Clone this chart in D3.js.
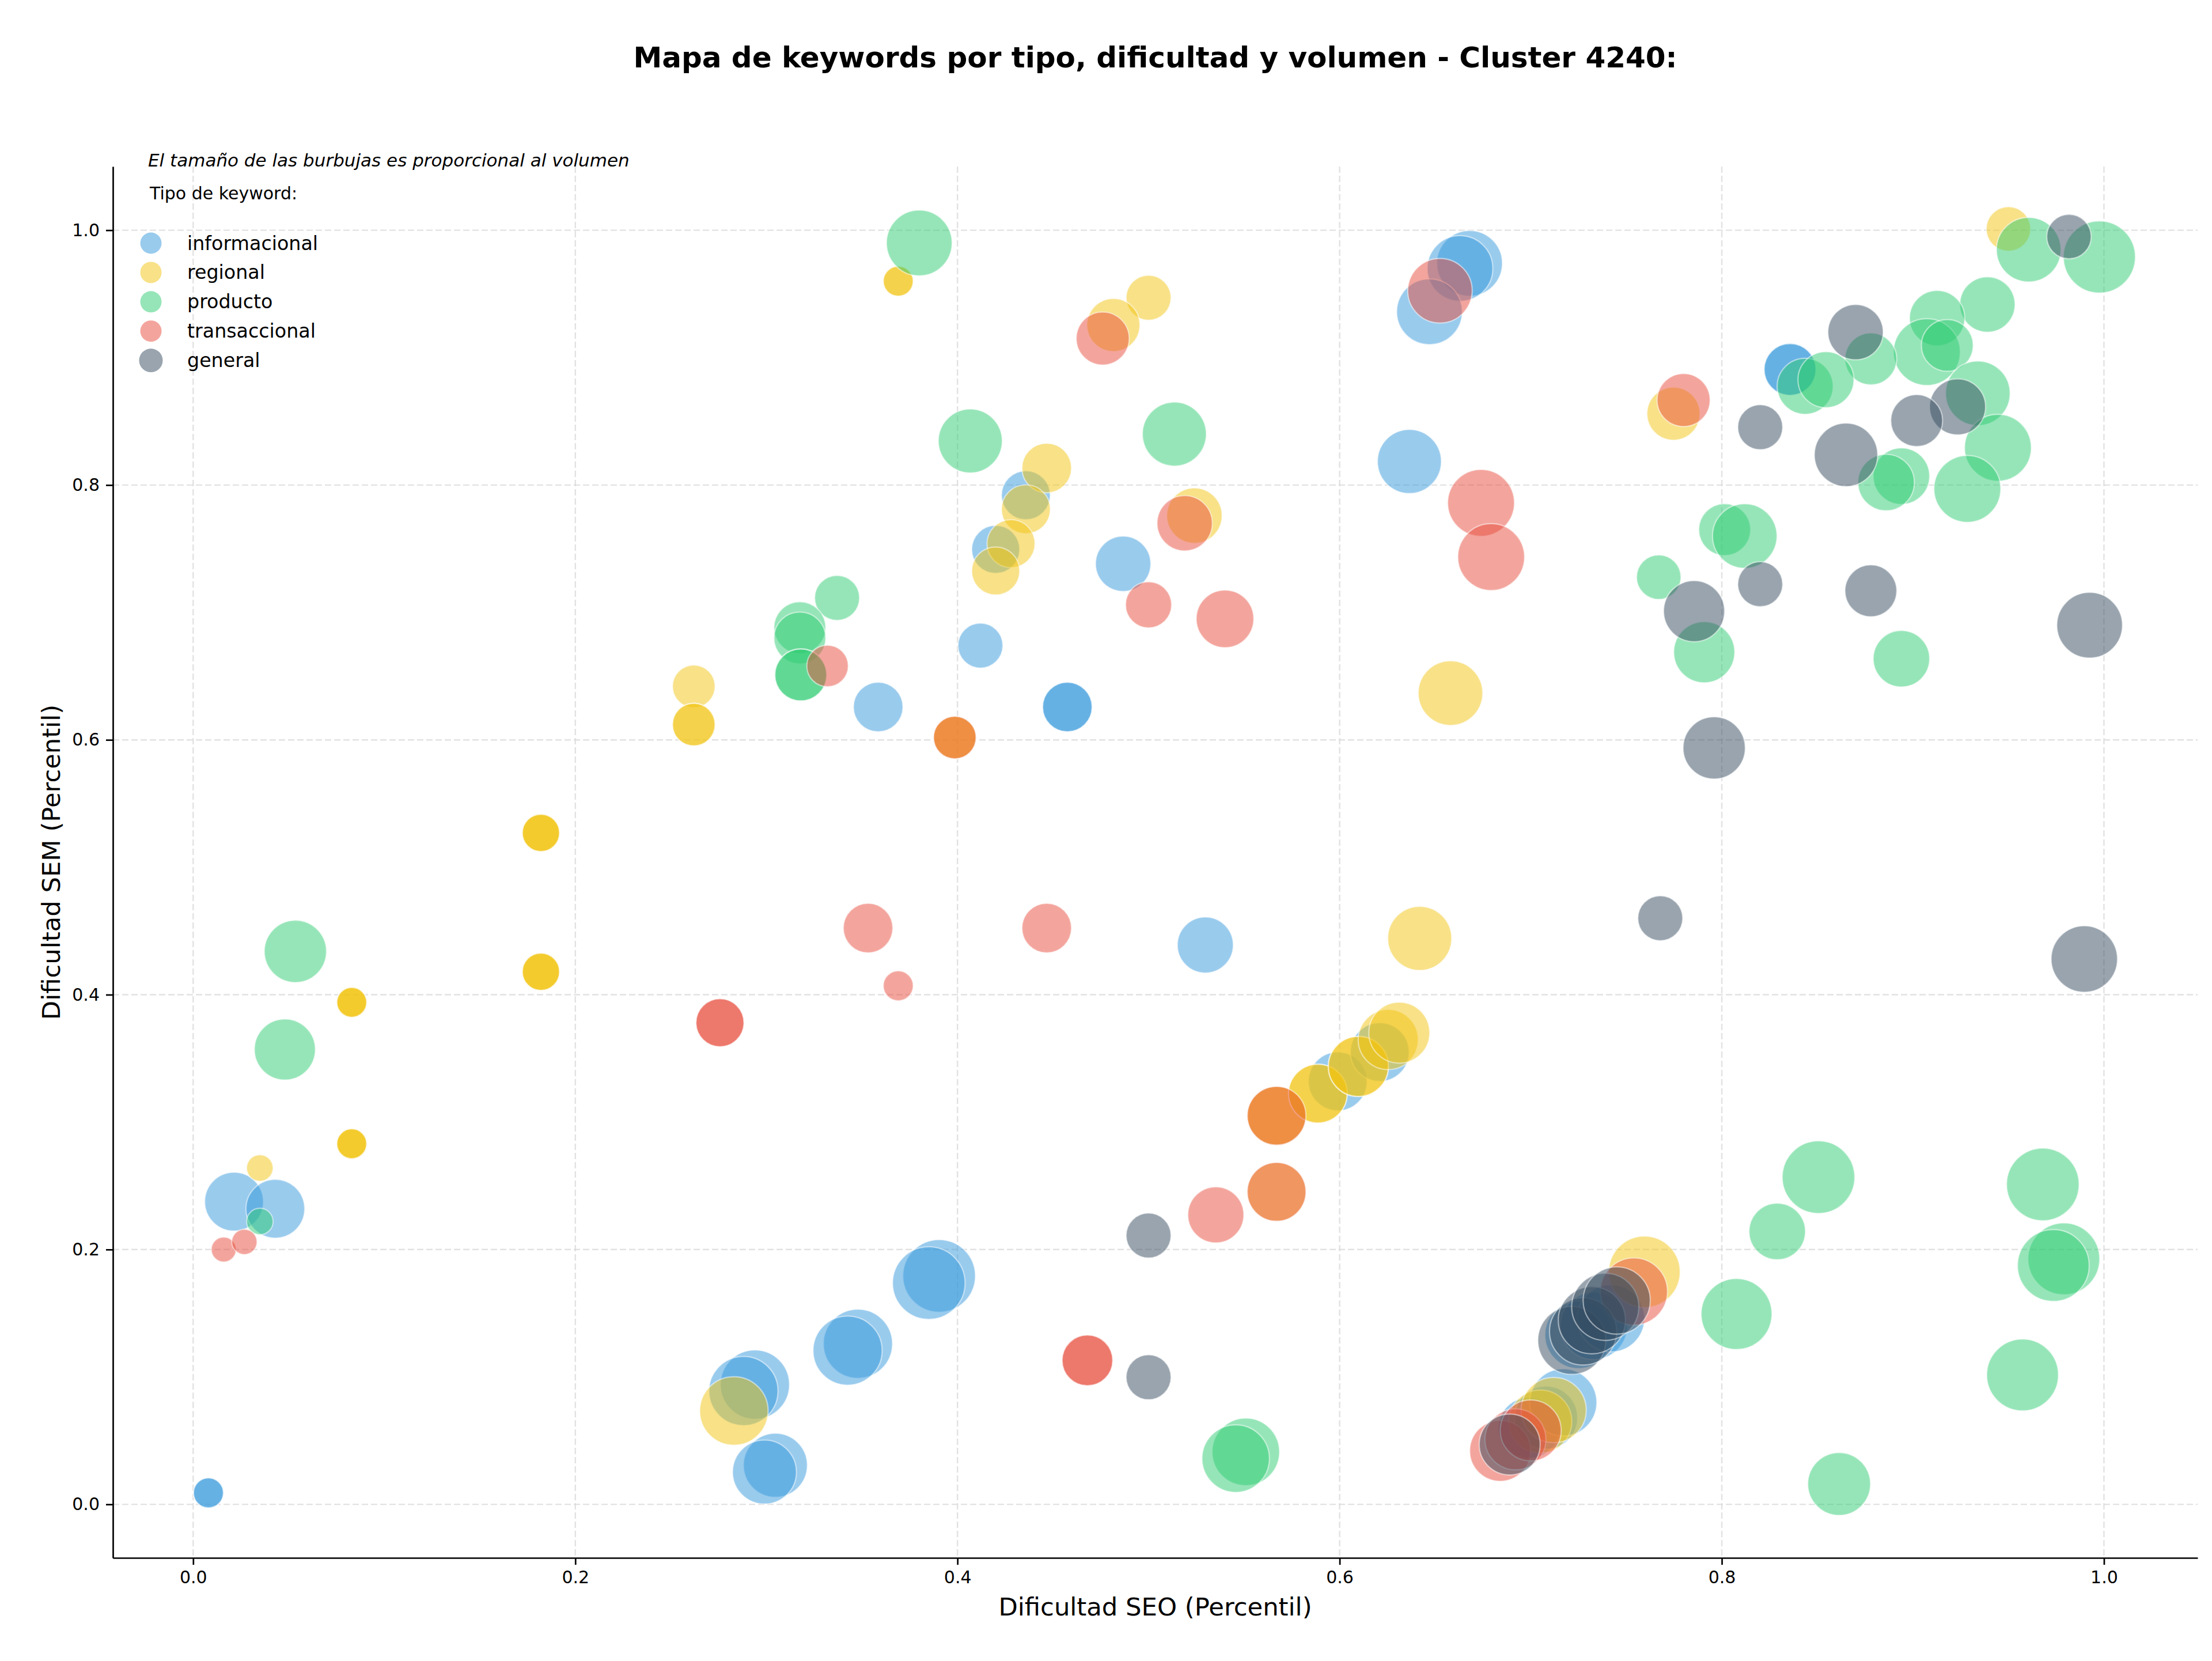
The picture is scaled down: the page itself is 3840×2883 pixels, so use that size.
<!DOCTYPE html>
<html>
<head>
<meta charset="utf-8">
<script src="https://cdn.jsdelivr.net/npm/d3@7"></script>
<style>
  body { margin: 0; background: #fff; }
  svg text { font-family: "DejaVu Sans", sans-serif; }
</style>
</head>
<body>
<div id="chart"></div>
<script>
// keyword types, in the order they are drawn
const tipos = ["informacional", "regional", "producto", "transaccional", "general"];
const colores = ["#3498db", "#f1c40f", "#2ecc71", "#e74c3c", "#34495e"];
const ticks = [0, 0.2, 0.4, 0.6, 0.8, 1.0];

// [dificultad SEO, dificultad SEM, volumen]
const informacional = [
    [0.008, 0.009, 169], [0.008, 0.009, 169],
    [0.0214, 0.2376, 650], [0.043, 0.232, 650],
    [0.294, 0.094, 900], [0.288, 0.089, 900],
    [0.3047, 0.0307, 770], [0.299, 0.0254, 770],
    [0.3904, 0.1793, 992], [0.385, 0.1737, 992],
    [0.3479, 0.126, 900], [0.3425, 0.1207, 900],
    [0.3585, 0.6258, 462], [0.412, 0.674, 380],
    [0.4575, 0.6258, 462], [0.4575, 0.6258, 462],
    [0.4358, 0.792, 450], [0.420, 0.7495, 434], [0.4867, 0.7382, 576],
    [0.6365, 0.8185, 770], [0.668, 0.974, 812], [0.663, 0.970, 812], [0.647, 0.936, 812],
    [0.5297, 0.439, 590],
    [0.8357, 0.8907, 506], [0.8357, 0.8907, 506],
    [0.599, 0.332, 650], [0.621, 0.355, 650],
    [0.699, 0.060, 700], [0.708, 0.068, 750], [0.717, 0.080, 850],
    [0.725, 0.133, 850], [0.733, 0.140, 850], [0.742, 0.146, 850]
];

const regional = [
    [0.262, 0.642, 342],
    [0.262, 0.612, 342], [0.262, 0.612, 342],
    [0.182, 0.527, 262], [0.182, 0.527, 262], [0.182, 0.527, 262],
    [0.083, 0.394, 169], [0.083, 0.394, 169], [0.083, 0.394, 169],
    [0.182, 0.418, 262], [0.182, 0.418, 262], [0.182, 0.418, 262],
    [0.083, 0.283, 169], [0.083, 0.283, 169], [0.083, 0.283, 169],
    [0.0349, 0.264, 132],
    [0.283, 0.0733, 882],
    [0.369, 0.960, 169], [0.369, 0.960, 169],
    [0.500, 0.947, 380], [0.4816, 0.9256, 529],
    [0.4467, 0.8133, 462], [0.4358, 0.781, 450], [0.428, 0.754, 434], [0.420, 0.7326, 434],
    [0.524, 0.776, 576], [0.658, 0.6367, 784],
    [0.3986, 0.6018, 342], [0.3986, 0.6018, 342],
    [0.950, 1.001, 372], [0.7747, 0.856, 529], [0.6419, 0.4442, 770],
    [0.567, 0.305, 650], [0.567, 0.305, 650],
    [0.567, 0.2453, 650],
    [0.5886, 0.3224, 650], [0.5886, 0.3224, 650],
    [0.6098, 0.3437, 680], [0.6098, 0.3437, 680],
    [0.6254, 0.3648, 680], [0.6312, 0.3702, 700],
    [0.705, 0.065, 750], [0.712, 0.074, 800], [0.7595, 0.1825, 961]
];

const producto = [
    [0.380, 0.990, 812], [0.4067, 0.8346, 770], [0.5135, 0.840, 770],
    [0.337, 0.7114, 380], [0.3175, 0.688, 506], [0.3175, 0.680, 506],
    [0.318, 0.651, 506], [0.318, 0.651, 506],
    [0.0535, 0.434, 729], [0.048, 0.357, 702], [0.0349, 0.222, 132],
    [0.5509, 0.0412, 858], [0.5456, 0.0359, 858],
    [0.9606, 0.9847, 784], [0.9976, 0.979, 977], [0.939, 0.9417, 576],
    [0.9127, 0.931, 576], [0.9073, 0.9044, 841], [0.918, 0.9096, 506],
    [0.878, 0.899, 506], [0.8436, 0.8775, 590], [0.8545, 0.8827, 590],
    [0.934, 0.872, 784], [0.9445, 0.8293, 841], [0.894, 0.807, 600],
    [0.886, 0.802, 600], [0.9285, 0.797, 841],
    [0.8015, 0.765, 506], [0.812, 0.760, 784], [0.767, 0.7277, 372],
    [0.7908, 0.6688, 702], [0.894, 0.6637, 600],
    [0.8506, 0.2568, 992], [0.829, 0.2142, 600], [0.968, 0.2511, 992],
    [0.979, 0.1927, 970], [0.9735, 0.1875, 970], [0.8077, 0.1494, 945],
    [0.9574, 0.1016, 970], [0.8614, 0.016, 742]
];

const transaccional = [
    [0.016, 0.200, 117], [0.0268, 0.206, 121],
    [0.2757, 0.378, 434], [0.2757, 0.378, 434],
    [0.476, 0.915, 529], [0.6525, 0.9525, 784],
    [0.5189, 0.770, 576], [0.500, 0.706, 400], [0.540, 0.695, 625],
    [0.674, 0.786, 841], [0.6793, 0.7435, 841],
    [0.332, 0.658, 324], [0.3986, 0.6018, 342], [0.780, 0.8667, 529],
    [0.3532, 0.4523, 462], [0.369, 0.407, 169], [0.4467, 0.4523, 462],
    [0.468, 0.113, 484], [0.468, 0.113, 484],
    [0.5352, 0.2272, 590], [0.567, 0.2453, 650], [0.567, 0.305, 650],
    [0.684, 0.042, 700], [0.692, 0.051, 700], [0.700, 0.058, 700],
    [0.754, 0.167, 850]
];

const general = [
    [0.9817, 0.995, 372], [0.870, 0.920, 576], [0.9234, 0.8614, 590],
    [0.902, 0.8506, 506], [0.865, 0.8237, 756], [0.8201, 0.8454, 380],
    [0.8201, 0.7222, 380], [0.7855, 0.701, 702], [0.878, 0.717, 506],
    [0.9925, 0.690, 812], [0.796, 0.5937, 729], [0.7678, 0.460, 380],
    [0.9897, 0.428, 830], [0.500, 0.211, 380], [0.500, 0.0998, 380],
    [0.689, 0.047, 700],
    [0.7215, 0.1287, 870], [0.7274, 0.1357, 850], [0.732, 0.1445, 850],
    [0.739, 0.155, 850], [0.745, 0.160, 850]
];

const series = [informacional, regional, producto, transaccional, general];

(function() {
    const width = 3840
    const height = 2883
    const margin = { top: 289, right: 25, bottom: 179, left: 196 }

    const svg = d3.select("#chart")
        .append("svg")
        .attr("width", width)
        .attr("height", height)

    const x = d3.scaleLinear()
        .domain([-0.042, 1.049])
        .range([margin.left, width - margin.right])

    const y = d3.scaleLinear()
        .domain([-0.042, 1.050])
        .range([height - margin.bottom, margin.top])

    // bubble radius grows with sqrt of volume (area proportional)
    const r = d3.scaleSqrt()
        .domain([0, 1000])
        .range([0, 63.2])

    const color = d3.scaleOrdinal().domain(tipos).range(colores)

    // grid
    const grid = svg.append("g")
    grid.selectAll(".gx")
        .data(ticks)
        .join("line")
        .attr("x1", d => x(d)).attr("x2", d => x(d))
        .attr("y1", margin.top).attr("y2", height - margin.bottom)
    grid.selectAll(".gy")
        .data(ticks)
        .join("line")
        .attr("class", "gy")
        .attr("y1", d => y(d)).attr("y2", d => y(d))
        .attr("x1", margin.left).attr("x2", width - margin.right)
    grid.selectAll("line")
        .attr("stroke", "#d9d9d9")
        .attr("stroke-width", 2.4)
        .attr("stroke-dasharray", "11,5")
        .attr("opacity", 0.75)

    // bubbles, one layer per type
    tipos.forEach((t, i) => {
        svg.append("g")
            .selectAll("circle")
            .data(series[i])
            .join("circle")
            .attr("cx", d => x(d[0]))
            .attr("cy", d => y(d[1]))
            .attr("r", d => r(d[2]))
            .attr("fill", color(t))
            .attr("fill-opacity", 0.5)
            .attr("stroke", "#fff")
            .attr("stroke-opacity", 0.5)
            .attr("stroke-width", 2.2)
    })

    // axes
    const xAxis = svg.append("g")
        .attr("transform", `translate(0,${height - margin.bottom})`)
        .call(d3.axisBottom(x).tickValues(ticks).tickFormat(d3.format(".1f"))
            .tickSize(12).tickPadding(11).tickSizeOuter(0))
    const yAxis = svg.append("g")
        .attr("transform", `translate(${margin.left},0)`)
        .call(d3.axisLeft(y).tickValues(ticks).tickFormat(d3.format(".1f"))
            .tickSize(12).tickPadding(11).tickSizeOuter(0))
    ;[xAxis, yAxis].forEach(a => {
        a.selectAll("path, line").attr("stroke", "#000").attr("stroke-width", 2.7)
        a.selectAll("text").attr("font-size", 30).attr("font-family", "DejaVu Sans").attr("fill", "#000")
    })

    // labels
    svg.append("text")
        .attr("x", (margin.left + width - margin.right) / 2)
        .attr("y", 117)
        .attr("text-anchor", "middle")
        .attr("font-size", 50)
        .attr("font-weight", "bold")
        .text("Mapa de keywords por tipo, dificultad y volumen - Cluster 4240:")

    svg.append("text")
        .attr("x", (margin.left + width - margin.right) / 2)
        .attr("y", 2804)
        .attr("text-anchor", "middle")
        .attr("font-size", 43.3)
        .text("Dificultad SEO (Percentil)")

    svg.append("text")
        .attr("transform", `translate(104,${(margin.top + height - margin.bottom) / 2}) rotate(-90)`)
        .attr("text-anchor", "middle")
        .attr("font-size", 43.3)
        .text("Dificultad SEM (Percentil)")

    svg.append("text")
        .attr("x", 257)
        .attr("y", 289)
        .attr("font-size", 31)
        .attr("font-style", "italic")
        .text("El tamaño de las burbujas es proporcional al volumen")

    // legend
    const legend = svg.append("g")
    legend.append("text")
        .attr("x", 260)
        .attr("y", 346)
        .attr("font-size", 30)
        .text("Tipo de keyword:")

    const item = legend.selectAll(".item")
        .data(tipos)
        .join("g")
        .attr("transform", (d, i) => `translate(262,${422 + i * 50.9})`)
    item.append("circle")
        .attr("r", (d, i) => i === 4 ? 20.5 : 18.5)
        .attr("fill", d => color(d))
        .attr("fill-opacity", 0.5)
    item.append("text")
        .attr("x", 63)
        .attr("y", 11.5)
        .attr("font-size", 33.3)
        .text(d => d)
})();
</script>
</body>
</html>
